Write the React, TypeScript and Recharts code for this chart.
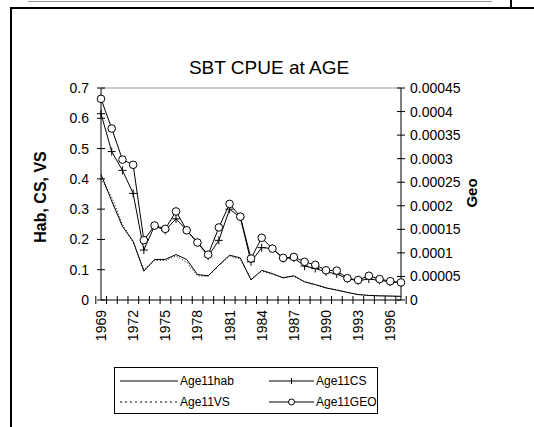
import React from 'react';
import { ComposedChart, XAxis, YAxis, Line, ReferenceLine, Legend } from 'recharts';

const years = [
  '1969', '1970', '1971', '1972', '1973', '1974', '1975', '1976', '1977', '1978',
  '1979', '1980', '1981', '1982', '1983', '1984', '1985', '1986', '1987', '1988',
  '1989', '1990', '1991', '1992', '1993', '1994', '1995', '1996', '1997',
];
const labeledYears = ['1969', '1972', '1975', '1978', '1981', '1984', '1987', '1990', '1993', '1996'];

const age11hab = [
  0.415, 0.327, 0.243, 0.194, 0.095, 0.134, 0.134, 0.15, 0.134, 0.084,
  0.08, 0.115, 0.148, 0.139, 0.066, 0.098, 0.087, 0.073, 0.08, 0.06,
  0.051, 0.04, 0.033, 0.025, 0.018, 0.015, 0.014, 0.013, 0.012,
];
const age11cs = [
  0.615, 0.49, 0.428, 0.352, 0.165, 0.245, 0.23, 0.268, 0.23, 0.19,
  0.145, 0.197, 0.3, 0.273, 0.126, 0.173, 0.17, 0.137, 0.139, 0.112,
  0.104, 0.093, 0.086, 0.07, 0.064, 0.069, 0.065, 0.06, 0.057,
];
const age11vs = [
  0.4, 0.34, 0.25, 0.19, 0.1, 0.13, 0.13, 0.145, 0.125, 0.08,
  0.078, 0.113, 0.145, 0.135, 0.07, 0.095, 0.085, 0.075, 0.078, 0.06,
  0.05, 0.04, 0.033, 0.025, 0.018, 0.015, 0.013, 0.013, 0.012,
];
const age11geo = [
  0.000427, 0.000364, 0.000298, 0.000287, 0.000127, 0.000158, 0.000151, 0.000188, 0.000148, 0.000122,
  0.0000964, 0.000154, 0.000204, 0.000177, 0.000088, 0.000132, 0.000109, 0.0000894, 0.0000913, 0.000081,
  0.0000746, 0.000063, 0.0000624, 0.0000463, 0.0000424, 0.0000514, 0.0000444, 0.0000399, 0.0000373,
];

const leftTicks = [0, 0.1, 0.2, 0.3, 0.4, 0.5, 0.6, 0.7];
const rightTicks = [0, 0.00005, 0.0001, 0.00015, 0.0002, 0.00025, 0.0003, 0.00035, 0.0004, 0.00045];

const data = years.map((year, i) => ({
  year,
  hab: age11hab[i],
  cs: age11cs[i],
  vs: age11vs[i],
  geo: age11geo[i],
}));

// layout
const W = 534;
const H = 427;
const PLOT_LEFT = 101;
const PLOT_RIGHT = 401;
const PLOT_TOP = 88;
const PLOT_BOTTOM = 300;
const BAND = (PLOT_RIGHT - PLOT_LEFT) / years.length;
const FONT = '"Liberation Sans", Arial, sans-serif';

const YearTick = (props: any) => {
  const { x, payload, index } = props;
  const half = BAND / 2;
  return (
    <g>
      <line x1={x - half} x2={x - half} y1={PLOT_BOTTOM - 4} y2={PLOT_BOTTOM + 4} stroke="#000" />
      {index === years.length - 1 && (
        <line x1={x + half} x2={x + half} y1={PLOT_BOTTOM - 4} y2={PLOT_BOTTOM + 4} stroke="#000" />
      )}
      {labeledYears.includes(payload.value) && (
        <text
          transform={`translate(${x},${PLOT_BOTTOM + 10}) rotate(-90)`}
          textAnchor="end"
          dominantBaseline="central"
          fontSize={14}
          fontFamily={FONT}
          fill="#000"
        >
          {payload.value}
        </text>
      )}
    </g>
  );
};

const LeftTick = (props: any) => {
  const { y, payload } = props;
  return (
    <g>
      <line x1={PLOT_LEFT - 4} x2={PLOT_LEFT + 4} y1={y} y2={y} stroke="#000" />
      <text x={PLOT_LEFT - 12} y={y} textAnchor="end" dominantBaseline="central" fontSize={14} fontFamily={FONT} fill="#000">
        {String(payload.value)}
      </text>
    </g>
  );
};

const RightTick = (props: any) => {
  const { y, payload } = props;
  return (
    <g>
      <line x1={PLOT_RIGHT - 4} x2={PLOT_RIGHT + 4} y1={y} y2={y} stroke="#000" />
      <text x={PLOT_RIGHT + 9} y={y} textAnchor="start" dominantBaseline="central" fontSize={14} fontFamily={FONT} fill="#000">
        {String(payload.value)}
      </text>
    </g>
  );
};

const PlusDot = (props: any) => {
  const { cx, cy, index } = props;
  if (cx == null || cy == null) return <g key={index} />;
  return (
    <g key={index}>
      <line x1={cx - 4} x2={cx + 4} y1={cy} y2={cy} stroke="#000" />
      <line x1={cx} x2={cx} y1={cy - 4} y2={cy + 4} stroke="#000" />
    </g>
  );
};

const CircleDot = (props: any) => {
  const { cx, cy, index } = props;
  if (cx == null || cy == null) return <g key={index} />;
  return <circle key={index} cx={cx} cy={cy} r={3.8} fill="#fff" stroke="#000" strokeWidth={1} />;
};

const LegendBox = () => {
  const item = (left: number, top: number, icon: React.ReactNode, iconW: number, label: string) => (
    <div style={{ position: 'absolute', left, top, display: 'flex', alignItems: 'center', height: 16 }}>
      <svg width={iconW} height={10} style={{ display: 'block' }}>{icon}</svg>
      <span style={{ marginLeft: 2, fontSize: 12, fontFamily: FONT, color: '#000', whiteSpace: 'nowrap' }}>{label}</span>
    </div>
  );
  return (
    <div style={{ position: 'relative', width: 262, height: 45, border: '1px solid #000', background: '#fff', boxSizing: 'content-box' }}>
      {item(5, 5, <line x1={0} x2={58} y1={5} y2={5} stroke="#000" />, 58, 'Age11hab')}
      {item(154, 5, <g><line x1={0} x2={45} y1={5} y2={5} stroke="#000" /><line x1={22.5} x2={22.5} y1={2} y2={8} stroke="#000" /></g>, 45, 'Age11CS')}
      {item(5, 26, <line x1={0} x2={58} y1={5} y2={5} stroke="#000" strokeDasharray="2 3" />, 58, 'Age11VS')}
      {item(154, 26, <g><line x1={0} x2={45} y1={5} y2={5} stroke="#000" /><circle cx={22.5} cy={5} r={3} fill="#fff" stroke="#000" /></g>, 45, 'Age11GEO')}
    </div>
  );
};

const App: React.FC = () => {
  return (
    <div style={{ position: 'absolute', left: 0, top: 0, width: W, height: H, background: '#fff', overflow: 'hidden' }}>
      {/* frame bits from the page the chart sat in */}
      <div style={{ position: 'absolute', left: 28, top: 1, width: 464, height: 1, background: '#999' }} />
      <div style={{ position: 'absolute', left: 510, top: 0, width: 2, height: 9, background: '#000' }} />
      <div style={{ position: 'absolute', left: 10, top: 7, width: W - 10, height: 2, background: '#000' }} />
      <div style={{ position: 'absolute', left: 10, top: 7, width: 2, height: H - 7, background: '#000' }} />

      <div style={{ position: 'absolute', left: 269, top: 68, transform: 'translate(-50%, -50%)', fontSize: 19, fontFamily: FONT, whiteSpace: 'nowrap', color: '#000' }}>
        SBT CPUE at AGE
      </div>
      <div style={{ position: 'absolute', left: 41, top: 197, transform: 'translate(-50%, -50%) rotate(-90deg)', fontSize: 16, fontWeight: 'bold', fontFamily: FONT, whiteSpace: 'nowrap', color: '#000' }}>
        Hab, CS, VS
      </div>
      <div style={{ position: 'absolute', left: 471, top: 193, transform: 'translate(-50%, -50%) rotate(-90deg)', fontSize: 15, fontWeight: 'bold', fontFamily: FONT, whiteSpace: 'nowrap', color: '#000' }}>
        Geo
      </div>

      <ComposedChart
        width={W}
        height={H}
        data={data}
        margin={{ top: PLOT_TOP, right: W - PLOT_RIGHT - 100, bottom: H - PLOT_BOTTOM - 40, left: PLOT_LEFT - 90 }}
        style={{ position: 'absolute', left: 0, top: 0 }}
      >
        <XAxis dataKey="year" interval={0} height={40} tickLine={false} axisLine={{ stroke: '#000' }} tick={<YearTick />} />
        <YAxis yAxisId="left" domain={[0, 0.7]} ticks={leftTicks} width={90} tickLine={false} axisLine={{ stroke: '#000' }} tick={<LeftTick />} />
        <YAxis yAxisId="right" orientation="right" domain={[0, 0.00045]} ticks={rightTicks} width={100} tickLine={false} axisLine={{ stroke: '#000' }} tick={<RightTick />} />
        <ReferenceLine yAxisId="left" y={0.7} stroke="#999" />
        <Line yAxisId="left" dataKey="hab" stroke="#000" strokeWidth={1} dot={false} isAnimationActive={false} />
        <Line yAxisId="left" dataKey="vs" stroke="#000" strokeWidth={1} strokeDasharray="1 2" dot={false} isAnimationActive={false} />
        <Line yAxisId="left" dataKey="cs" stroke="#000" strokeWidth={1} dot={<PlusDot />} isAnimationActive={false} />
        <Line yAxisId="right" dataKey="geo" stroke="#000" strokeWidth={1} dot={<CircleDot />} isAnimationActive={false} />
        <Legend
          layout="horizontal"
          verticalAlign="middle"
          align="center"
          wrapperStyle={{ left: 114, top: 367, width: 264, height: 47 }}
          content={() => <LegendBox />}
        />
      </ComposedChart>
    </div>
  );
};

export default App;
